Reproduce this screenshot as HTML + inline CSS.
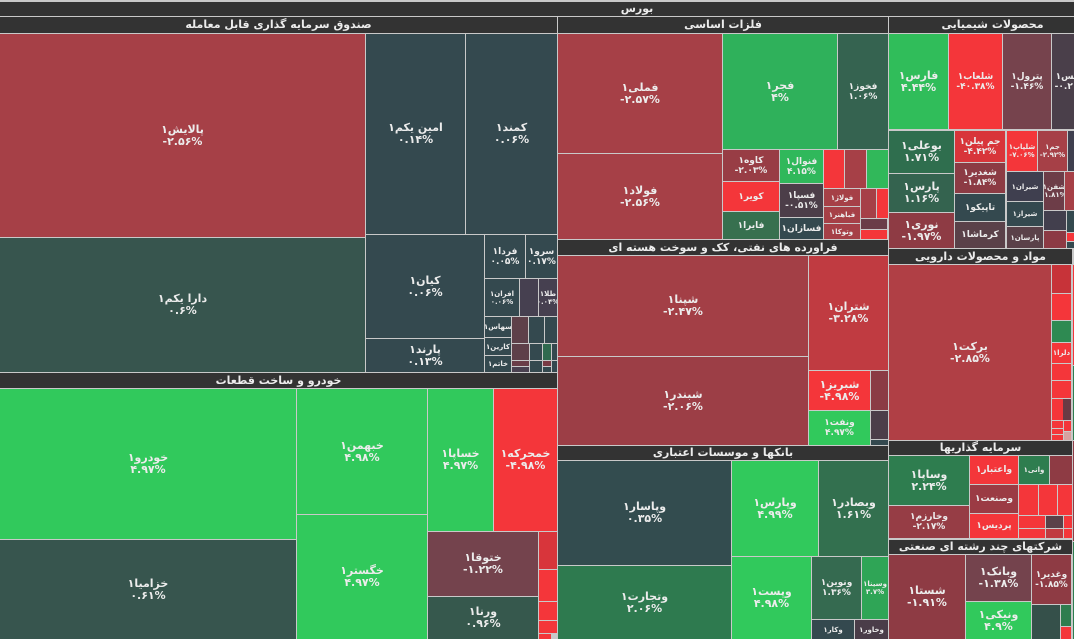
<!DOCTYPE html>
<html><head><meta charset="utf-8">
<style>
html,body{margin:0;padding:0}
body{width:1074px;height:639px;overflow:hidden;position:relative;background:#c9c9c9;font-family:"DejaVu Sans",sans-serif}
.t{position:absolute;display:flex;flex-direction:column;align-items:center;justify-content:center;color:#ececec;font-weight:bold;font-size:11px;line-height:12px;overflow:hidden;text-align:center;white-space:nowrap}
.s{font-size:9px;line-height:10px}
.x{font-size:7px;line-height:8px}
.h{position:absolute;background:#333;color:#ececec;font-weight:bold;font-size:11px;line-height:15px;text-align:center;overflow:hidden;white-space:nowrap}
.R{background:#f4363a}.G{background:#31c95c}.S{background:#34494f}.D{background:#a64047}.P{background:#74434d}.Q{background:#4c3e49}.M{background:#8e3b44}.N{background:#2e7d4f}.K{background:#37554e}.V{background:#5a4149}.W{background:#3f3f4f}
</style></head><body>
<div class="h" style="left:0;top:2;top:2px;width:1274px;height:14px;line-height:14px">بورس</div>

<!-- Column 1 -->
<div class="h" style="left:0;top:17px;width:557px;height:16px">صندوق سرمایه گذاری قابل معامله</div>
<div class="t" style="left:0;top:34px;width:365px;height:203px;background:#a64047"><span>پالایش۱</span><span dir="ltr">-۲.۵۶%</span></div>
<div class="t K" style="left:0;top:238px;width:365px;height:134px"><span>دارا یکم۱</span><span dir="ltr">۰.۶%</span></div>
<div class="t S" style="left:366px;top:34px;width:99px;height:200px"><span>امین یکم۱</span><span dir="ltr">۰.۱۴%</span></div>
<div class="t S" style="left:466px;top:34px;width:91px;height:200px"><span>کمند۱</span><span dir="ltr">۰.۰۶%</span></div>
<div class="t S" style="left:366px;top:235px;width:118px;height:103px"><span>کیان۱</span><span dir="ltr">۰.۰۶%</span></div>
<div class="t S" style="left:366px;top:339px;width:118px;height:33px"><span>پارند۱</span><span dir="ltr">۰.۱۳%</span></div>
<div class="t S s" style="left:485px;top:235px;width:40px;height:43px"><span>فردا۱</span><span dir="ltr">۰.۰۵%</span></div>
<div class="t S s" style="left:526px;top:235px;width:31px;height:43px"><span>سرو۱</span><span dir="ltr">۰.۱۷%</span></div>
<div class="t S x" style="left:485px;top:279px;width:34px;height:37px"><span>افران۱</span><span dir="ltr">۰.۰۶%</span></div>
<div class="t" style="left:520px;top:279px;width:18px;height:37px;background:#464050"></div>
<div class="t x" style="left:539px;top:279px;width:18px;height:37px;background:#464050"><span>طلا۱</span><span dir="ltr">۰.۰۴%</span></div>
<div class="t S x" style="left:485px;top:317px;width:26px;height:20px"><span>سهاس۱</span></div>
<div class="t S x" style="left:485px;top:338px;width:26px;height:17px"><span>کارین۱</span></div>
<div class="t S x" style="left:485px;top:356px;width:26px;height:16px"><span>خاتم۱</span></div>
<div class="t" style="left:512px;top:317px;width:16px;height:26px;background:#5e4049"></div>
<div class="t S" style="left:529px;top:317px;width:15px;height:26px"></div>
<div class="t S" style="left:545px;top:317px;width:12px;height:26px"></div>
<div class="t" style="left:512px;top:344px;width:17px;height:16px;background:#5e4049"></div>
<div class="t S" style="left:530px;top:344px;width:12px;height:16px"></div>
<div class="t" style="left:543px;top:344px;width:8px;height:16px;background:#2f6a4f"></div>
<div class="t S" style="left:552px;top:344px;width:5px;height:16px"></div>
<div class="t" style="left:512px;top:361px;width:17px;height:5px;background:#6a3d48"></div>
<div class="t" style="left:512px;top:367px;width:17px;height:5px;background:#4a4150"></div>
<div class="t S" style="left:530px;top:361px;width:12px;height:11px"></div>
<div class="t" style="left:543px;top:361px;width:8px;height:5px;background:#7a3b45"></div>
<div class="t S" style="left:543px;top:367px;width:8px;height:5px"></div>
<div class="t S" style="left:552px;top:361px;width:5px;height:11px"></div>

<div class="h" style="left:0;top:373px;width:557px;height:15px;line-height:15px">خودرو و ساخت قطعات</div>
<div class="t G" style="left:0;top:389px;width:296px;height:150px"><span>خودرو۱</span><span dir="ltr">۴.۹۷%</span></div>
<div class="t K" style="left:0;top:540px;width:296px;height:99px"><span>خزامیا۱</span><span dir="ltr">۰.۶۱%</span></div>
<div class="t G" style="left:297px;top:389px;width:130px;height:125px"><span>خبهمن۱</span><span dir="ltr">۴.۹۸%</span></div>
<div class="t G" style="left:297px;top:515px;width:130px;height:124px"><span>خگستر۱</span><span dir="ltr">۴.۹۷%</span></div>
<div class="t G" style="left:428px;top:389px;width:65px;height:142px"><span>خساپا۱</span><span dir="ltr">۴.۹۷%</span></div>
<div class="t R" style="left:494px;top:389px;width:63px;height:142px"><span>خمحرکه۱</span><span dir="ltr">-۴.۹۸%</span></div>
<div class="t P" style="left:428px;top:532px;width:110px;height:64px"><span>ختوقا۱</span><span dir="ltr">-۱.۲۲%</span></div>
<div class="t" style="left:428px;top:597px;width:110px;height:42px;background:#36584d"><span>ورنا۱</span><span dir="ltr">۰.۹۶%</span></div>
<div class="t" style="left:539px;top:532px;width:18px;height:37px;background:#d8353b"></div>
<div class="t R" style="left:539px;top:570px;width:18px;height:31px"></div>
<div class="t R" style="left:539px;top:602px;width:18px;height:18px"></div>
<div class="t R" style="left:539px;top:621px;width:18px;height:12px"></div>
<div class="t R" style="left:539px;top:634px;width:12px;height:5px"></div>

<!-- Column 2 -->
<div class="h" style="left:558px;top:17px;width:330px;height:16px">فلزات اساسی</div>
<div class="t D" style="left:558px;top:34px;width:164px;height:119px"><span>فملی۱</span><span dir="ltr">-۲.۵۷%</span></div>
<div class="t D" style="left:558px;top:154px;width:164px;height:85px"><span>فولاد۱</span><span dir="ltr">-۲.۵۶%</span></div>
<div class="t" style="left:723px;top:34px;width:114px;height:115px;background:#2fb15b"><span>فجر۱</span><span dir="ltr">۴%</span></div>
<div class="t s" style="left:838px;top:34px;width:50px;height:115px;background:#356350"><span>فخوز۱</span><span dir="ltr">۱.۰۶%</span></div>
<div class="t s" style="left:723px;top:150px;width:56px;height:31px;background:#983d45"><span>کاوه۱</span><span dir="ltr">-۲.۰۳%</span></div>
<div class="t R s" style="left:723px;top:182px;width:56px;height:29px"><span>کویر۱</span></div>
<div class="t s" style="left:723px;top:212px;width:56px;height:27px;background:#37704f"><span>فایرا۱</span></div>
<div class="t s" style="left:780px;top:150px;width:43px;height:33px;background:#30b85b"><span>فنوال۱</span><span dir="ltr">۴.۱۵%</span></div>
<div class="t Q s" style="left:780px;top:184px;width:43px;height:33px"><span>فسپا۱</span><span dir="ltr">-۰.۵۱%</span></div>
<div class="t S s" style="left:780px;top:218px;width:43px;height:21px"><span>فسازان۱</span></div>
<div class="t R" style="left:824px;top:150px;width:20px;height:38px"></div>
<div class="t D" style="left:845px;top:150px;width:21px;height:38px"></div>
<div class="t" style="left:867px;top:150px;width:21px;height:38px;background:#31b85a"></div>
<div class="t D x" style="left:824px;top:189px;width:36px;height:17px"><span>فولاژ۱</span></div>
<div class="t D x" style="left:824px;top:207px;width:36px;height:16px"><span>فباهنر۱</span></div>
<div class="t D x" style="left:824px;top:224px;width:36px;height:15px"><span>وتوکا۱</span></div>
<div class="t D" style="left:861px;top:189px;width:15px;height:29px"></div>
<div class="t R" style="left:877px;top:189px;width:11px;height:29px"></div>
<div class="t" style="left:861px;top:219px;width:26px;height:10px;background:#6a3d48"></div>
<div class="t R" style="left:861px;top:230px;width:26px;height:9px"></div>

<div class="h" style="left:558px;top:240px;width:330px;height:15px;line-height:15px">فراورده های نفتی، کک و سوخت هسته ای</div>
<div class="t" style="left:558px;top:256px;width:250px;height:100px;background:#a33f46"><span>شپنا۱</span><span dir="ltr">-۲.۴۷%</span></div>
<div class="t" style="left:558px;top:357px;width:250px;height:88px;background:#9c3e46"><span>شبندر۱</span><span dir="ltr">-۲.۰۶%</span></div>
<div class="t" style="left:809px;top:256px;width:79px;height:114px;background:#c03b41"><span>شتران۱</span><span dir="ltr">-۳.۲۸%</span></div>
<div class="t R" style="left:809px;top:371px;width:61px;height:39px"><span>شبریز۱</span><span dir="ltr">-۴.۹۸%</span></div>
<div class="t G s" style="left:809px;top:411px;width:61px;height:34px"><span>ونفت۱</span><span dir="ltr">۴.۹۷%</span></div>
<div class="t" style="left:871px;top:371px;width:17px;height:39px;background:#8b3b44"></div>
<div class="t Q" style="left:871px;top:411px;width:17px;height:28px"></div>
<div class="t S" style="left:871px;top:440px;width:17px;height:5px"></div>

<div class="h" style="left:558px;top:446px;width:330px;height:14px;line-height:14px">بانکها و موسسات اعتباری</div>
<div class="t" style="left:558px;top:461px;width:173px;height:104px;background:#334c4f"><span>وپاسار۱</span><span dir="ltr">۰.۳۵%</span></div>
<div class="t" style="left:558px;top:566px;width:173px;height:73px;background:#2e7a4f"><span>وتجارت۱</span><span dir="ltr">۲.۰۶%</span></div>
<div class="t G" style="left:732px;top:461px;width:86px;height:95px"><span>وپارس۱</span><span dir="ltr">۴.۹۹%</span></div>
<div class="t" style="left:819px;top:461px;width:69px;height:95px;background:#33704f"><span>وبصادر۱</span><span dir="ltr">۱.۶۱%</span></div>
<div class="t G" style="left:732px;top:557px;width:79px;height:82px"><span>وپست۱</span><span dir="ltr">۴.۹۸%</span></div>
<div class="t s" style="left:812px;top:557px;width:49px;height:62px;background:#356a50"><span>ونوین۱</span><span dir="ltr">۱.۳۶%</span></div>
<div class="t x" style="left:862px;top:557px;width:26px;height:62px;background:#2fa556"><span>وسینا۱</span><span dir="ltr">۳.۷%</span></div>
<div class="t S x" style="left:812px;top:620px;width:42px;height:19px"><span>وکار۱</span></div>
<div class="t x" style="left:855px;top:620px;width:33px;height:19px;background:#4a3d49"><span>وخاور۱</span></div>

<!-- Column 3 -->
<div class="h" style="left:889px;top:17px;width:207px;height:16px">محصولات شیمیایی</div>
<div class="t" style="left:889px;top:34px;width:59px;height:95px;background:#30bd5a"><span>فارس۱</span><span dir="ltr">۴.۴۴%</span></div>
<div class="t R s" style="left:949px;top:34px;width:53px;height:95px"><span>شلعاب۱</span><span dir="ltr">-۴۰.۳۸%</span></div>
<div class="t s" style="left:1003px;top:34px;width:48px;height:95px;background:#76434d"><span>پترول۱</span><span dir="ltr">-۱.۴۶%</span></div>
<div class="t s" style="left:1052px;top:34px;width:38px;height:95px;background:#4a3f4a"><span>وپیس۱</span><span dir="ltr">-۰.۲۱%</span></div>
<div class="t" style="left:889px;top:131px;width:65px;height:42px;background:#2f6e4e"><span>بوعلی۱</span><span dir="ltr">۱.۷۱%</span></div>
<div class="t" style="left:889px;top:174px;width:65px;height:38px;background:#34634f"><span>پارس۱</span><span dir="ltr">۱.۱۶%</span></div>
<div class="t M" style="left:889px;top:213px;width:65px;height:35px"><span>نوری۱</span><span dir="ltr">-۱.۹۷%</span></div>
<div class="t s" style="left:955px;top:131px;width:50px;height:31px;background:#d8353a"><span>جم پیلن۱</span><span dir="ltr">-۴.۴۲%</span></div>
<div class="t s" style="left:955px;top:163px;width:50px;height:30px;background:#8c3b44"><span>شغدیر۱</span><span dir="ltr">-۱.۸۴%</span></div>
<div class="t S s" style="left:955px;top:194px;width:50px;height:27px"><span>تاپیکو۱</span></div>
<div class="t V s" style="left:955px;top:222px;width:50px;height:26px"><span>کرماشا۱</span></div>
<div class="t R x" style="left:1007px;top:131px;width:30px;height:40px"><span>شلپاپ۱</span><span dir="ltr">-۷.۰۶%</span></div>
<div class="t D x" style="left:1038px;top:131px;width:29px;height:40px"><span>جم۱</span><span dir="ltr">-۲.۹۲%</span></div>
<div class="t W" style="left:1068px;top:131px;width:10px;height:40px"></div>
<div class="t W x" style="left:1007px;top:172px;width:36px;height:29px"><span>شیران۱</span></div>
<div class="t S x" style="left:1007px;top:202px;width:36px;height:24px"><span>شیراز۱</span></div>
<div class="t V x" style="left:1007px;top:227px;width:36px;height:21px"><span>پارسان۱</span></div>
<div class="t x" style="left:1044px;top:172px;width:20px;height:38px;background:#6d3d48"><span>شفن۱</span><span dir="ltr">-۱.۸۱%</span></div>
<div class="t D" style="left:1065px;top:172px;width:12px;height:38px"></div>
<div class="t" style="left:1044px;top:211px;width:22px;height:19px;background:#423f4d"></div>
<div class="t" style="left:1044px;top:231px;width:22px;height:17px;background:#8c3a44"></div>
<div class="t S" style="left:1067px;top:211px;width:10px;height:21px"></div>
<div class="t R" style="left:1067px;top:233px;width:10px;height:8px"></div>
<div class="t S" style="left:1067px;top:242px;width:10px;height:6px"></div>

<div class="h" style="left:889px;top:249px;width:183px;height:15px;line-height:15px">مواد و محصولات دارویی</div>
<div class="t" style="left:889px;top:265px;width:162px;height:175px;background:#b03f45"><span>برکت۱</span><span dir="ltr">-۲.۸۵%</span></div>
<div class="t" style="left:1052px;top:265px;width:19px;height:28px;background:#c73339"></div>
<div class="t R" style="left:1052px;top:294px;width:19px;height:26px"></div>
<div class="t" style="left:1052px;top:321px;width:19px;height:21px;background:#2e8a52"></div>
<div class="t R x" style="left:1052px;top:343px;width:19px;height:20px"><span>دلرا۱</span></div>
<div class="t R" style="left:1052px;top:364px;width:19px;height:16px"></div>
<div class="t R" style="left:1052px;top:381px;width:19px;height:17px"></div>
<div class="t R" style="left:1052px;top:399px;width:11px;height:21px"></div>
<div class="t x" style="left:1063px;top:399px;width:8px;height:21px;background:#6a3a44"></div>
<div class="t R" style="left:1052px;top:421px;width:11px;height:7px"></div>
<div class="t R" style="left:1052px;top:429px;width:11px;height:5px"></div>
<div class="t R" style="left:1052px;top:435px;width:11px;height:5px"></div>
<div class="t R" style="left:1064px;top:421px;width:7px;height:10px"></div>
<div class="t" style="left:1064px;top:432px;width:7px;height:8px;background:#d8a0a0"></div>
<div class="t R" style="left:1073px;top:265px;width:1px;height:100px"></div>
<div class="t" style="left:1073px;top:366px;width:1px;height:74px;background:#2e7d4f"></div>

<div class="h" style="left:889px;top:441px;width:183px;height:14px;line-height:14px">سرمایه گذاریها</div>
<div class="t N" style="left:889px;top:456px;width:80px;height:49px"><span>وساپا۱</span><span dir="ltr">۲.۲۴%</span></div>
<div class="t s" style="left:889px;top:506px;width:80px;height:32px;background:#963d45"><span>وخارزم۱</span><span dir="ltr">-۲.۱۷%</span></div>
<div class="t R s" style="left:970px;top:456px;width:48px;height:28px"><span>واعتبار۱</span></div>
<div class="t s" style="left:970px;top:485px;width:48px;height:28px;background:#9b3b44"><span>وصنعت۱</span></div>
<div class="t R s" style="left:970px;top:514px;width:48px;height:24px"><span>پردیس۱</span></div>
<div class="t N x" style="left:1019px;top:456px;width:30px;height:28px"><span>وانی۱</span></div>
<div class="t M" style="left:1050px;top:456px;width:22px;height:28px"></div>
<div class="t R" style="left:1019px;top:485px;width:19px;height:30px"></div>
<div class="t R" style="left:1039px;top:485px;width:18px;height:30px"></div>
<div class="t R" style="left:1058px;top:485px;width:14px;height:30px"></div>
<div class="t R" style="left:1019px;top:516px;width:26px;height:12px"></div>
<div class="t V" style="left:1046px;top:516px;width:17px;height:12px"></div>
<div class="t R" style="left:1064px;top:516px;width:8px;height:12px"></div>
<div class="t R" style="left:1019px;top:529px;width:26px;height:9px"></div>
<div class="t" style="left:1046px;top:529px;width:17px;height:9px;background:#c03a40"></div>
<div class="t R" style="left:1064px;top:529px;width:8px;height:9px"></div>

<div class="h" style="left:889px;top:540px;width:183px;height:14px;line-height:14px">شرکتهای چند رشته ای صنعتی</div>
<div class="t M" style="left:889px;top:555px;width:76px;height:84px"><span>شستا۱</span><span dir="ltr">-۱.۹۱%</span></div>
<div class="t P" style="left:966px;top:555px;width:65px;height:46px"><span>وبانک۱</span><span dir="ltr">-۱.۳۸%</span></div>
<div class="t G" style="left:966px;top:602px;width:65px;height:37px"><span>ونیکی۱</span><span dir="ltr">۴.۹%</span></div>
<div class="t M s" style="left:1032px;top:555px;width:39px;height:49px"><span>وغدیر۱</span><span dir="ltr">-۱.۸۵%</span></div>
<div class="t" style="left:1032px;top:605px;width:28px;height:34px;background:#35504a"></div>
<div class="t N" style="left:1061px;top:605px;width:10px;height:21px"></div>
<div class="t R" style="left:1061px;top:627px;width:10px;height:12px"></div>
<div class="t" style="left:1073px;top:441px;width:1px;height:100px;background:#8e3b44"></div>
<div class="t" style="left:1073px;top:542px;width:1px;height:97px;background:#2e7d4f"></div>
</body></html>
